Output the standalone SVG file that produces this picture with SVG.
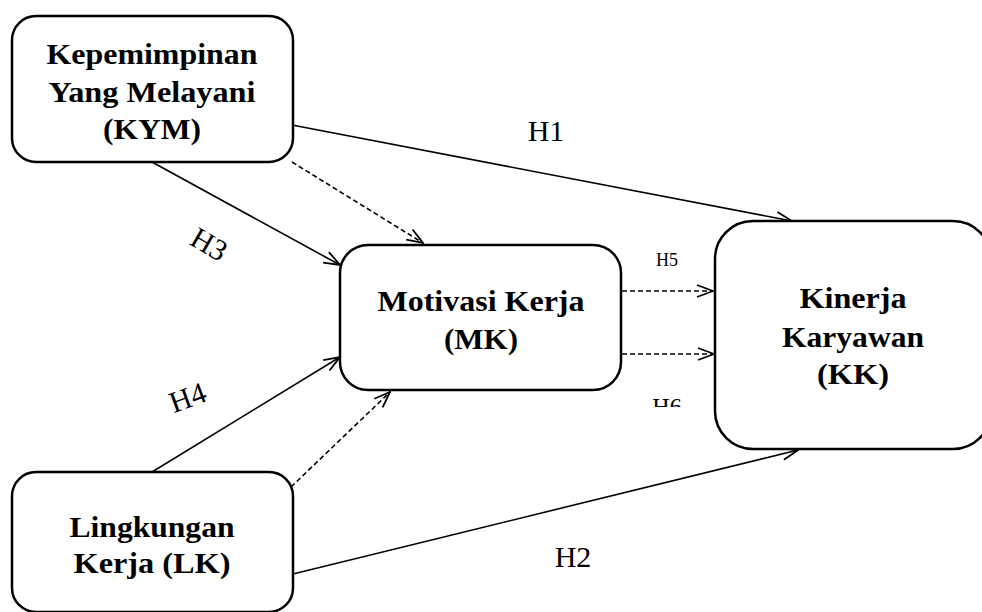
<svg xmlns="http://www.w3.org/2000/svg" width="982" height="612" viewBox="0 0 982 612">
<style>
.box{fill:#fff;stroke:#000;stroke-width:2.5}
.t{font-family:"Liberation Serif","Times New Roman",serif;font-weight:bold;font-size:30px;text-anchor:middle;fill:#000}
.lbl{font-family:"Liberation Serif","Times New Roman",serif;font-size:30px;text-anchor:middle;fill:#000}
.ln{fill:none;stroke:#000;stroke-width:1.6;marker-end:url(#arr)}
.ds{stroke-dasharray:5,3}
</style>
<defs>
<marker id="arr" markerUnits="userSpaceOnUse" markerWidth="18" markerHeight="14" viewBox="0 0 18 14" refX="17" refY="7" orient="auto">
<path d="M1,1 L17,7 L1,13" fill="none" stroke="#000" stroke-width="1.8"/>
</marker>
<clipPath id="h6clip"><rect x="600" y="380" width="120" height="27"/></clipPath>
</defs>
<g id="connectors">
<line class="ln" x1="292" y1="125" x2="792" y2="221"/>
<line class="ln" x1="152" y1="162" x2="340" y2="265"/>
<line class="ln ds" x1="292" y1="162" x2="423" y2="243"/>
<line class="ln" x1="152" y1="472" x2="340" y2="357"/>
<line class="ln ds" x1="291" y1="487" x2="390" y2="392"/>
<line class="ln ds" x1="622" y1="291" x2="713" y2="291"/>
<line class="ln ds" x1="622" y1="354" x2="714" y2="354"/>
<line class="ln" x1="293" y1="574" x2="798" y2="450"/>
<text class="lbl" x="546" y="141">H1</text>
<text class="lbl" x="0" y="0" transform="translate(204,253) rotate(30)">H3</text>
<text class="lbl" x="0" y="0" transform="translate(191,407) rotate(-20)">H4</text>
<text class="lbl" x="667" y="266" style="font-size:18px">H5</text>
<text class="lbl" x="667" y="414" style="font-size:24px" clip-path="url(#h6clip)">H6</text>
<text class="lbl" x="573" y="567">H2</text>
</g>
<g id="kym">
<rect class="box" x="12" y="16" width="281" height="146" rx="24"/>
<text class="t" x="152" y="64" textLength="211" lengthAdjust="spacingAndGlyphs">Kepemimpinan</text>
<text class="t" x="152" y="102" textLength="207" lengthAdjust="spacingAndGlyphs">Yang Melayani</text>
<text class="t" x="152" y="139" textLength="98" lengthAdjust="spacingAndGlyphs">(KYM)</text>
</g>
<g id="mk">
<rect class="box" x="340" y="245" width="281" height="145" rx="28"/>
<text class="t" x="481" y="311" textLength="207" lengthAdjust="spacingAndGlyphs">Motivasi Kerja</text>
<text class="t" x="481" y="349" textLength="74" lengthAdjust="spacingAndGlyphs">(MK)</text>
</g>
<g id="kk">
<rect class="box" x="715" y="221" width="276" height="228" rx="38"/>
<text class="t" x="853" y="308" textLength="107" lengthAdjust="spacingAndGlyphs">Kinerja</text>
<text class="t" x="853" y="347" textLength="142" lengthAdjust="spacingAndGlyphs">Karyawan</text>
<text class="t" x="853" y="384" textLength="72" lengthAdjust="spacingAndGlyphs">(KK)</text>
</g>
<g id="lk">
<rect class="box" x="12" y="472" width="281" height="140" rx="24"/>
<text class="t" x="152" y="537" textLength="165" lengthAdjust="spacingAndGlyphs">Lingkungan</text>
<text class="t" x="152" y="573" textLength="157" lengthAdjust="spacingAndGlyphs">Kerja (LK)</text>
</g>
</svg>
